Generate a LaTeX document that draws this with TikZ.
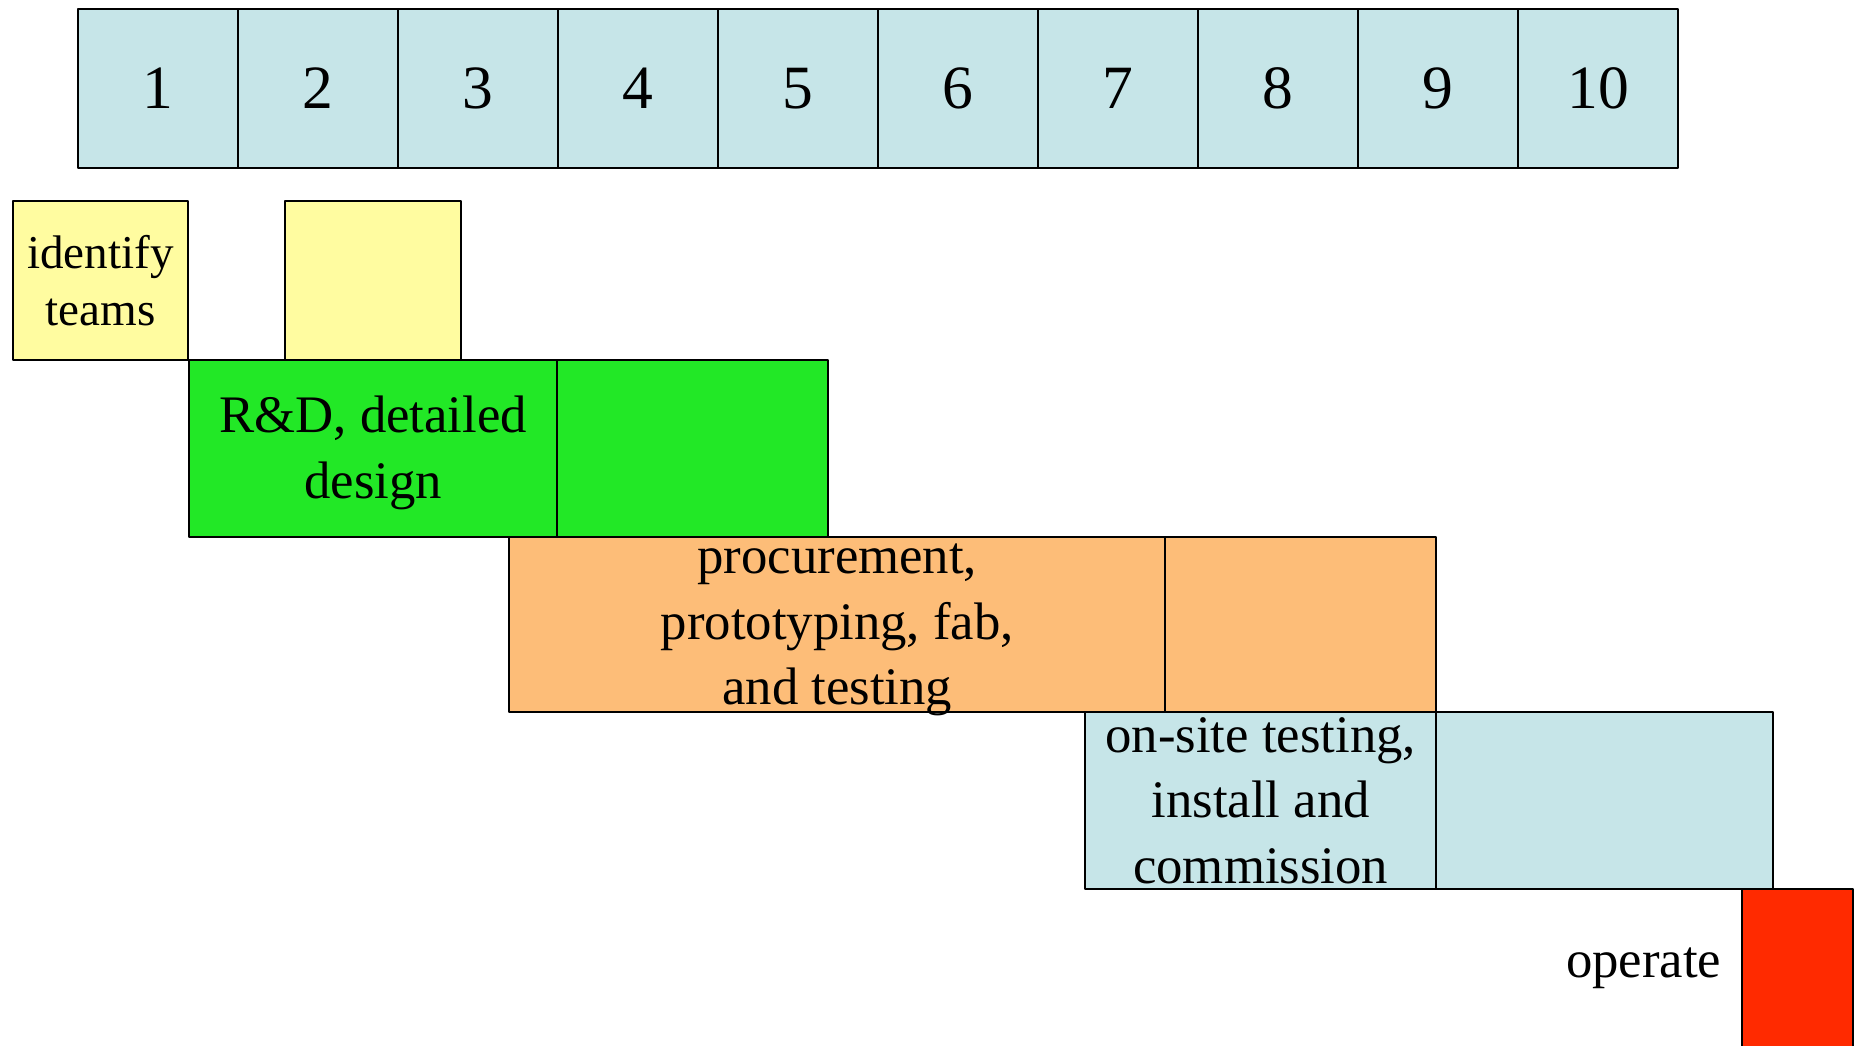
\documentclass[tikz,border=0pt]{standalone}
\usepackage{fontspec}
\setmainfont{Liberation Serif}
\definecolor{sky}{HTML}{C6E5E8}
\definecolor{pale}{HTML}{FFFCA0}
\definecolor{leaf}{HTML}{22E826}
\definecolor{peach}{HTML}{FDBD78}
\definecolor{fire}{HTML}{FF2A00}
\begin{document}
\begin{tikzpicture}[x=0.01cm, y=-0.01cm, line join=round,
  box/.style={draw, line width=0.6pt, rectangle, inner sep=0pt, anchor=north west, align=center},
  year/.style={box, fill=sky, minimum width=1.6cm, minimum height=1.59cm, font=\fontsize{17.5}{21}\selectfont},
  phase/.style={inner sep=0pt, align=center, font=\fontsize{15}{18.6}\selectfont}]
\useasboundingbox (0,0) rectangle (1858,1046);
% years along the top
\foreach \i in {1,...,10}
  \node[year] (yr\i) at ({77+(\i-1)*160},8) {\i};
% phases
\node[box, fill=pale, minimum width=1.75cm, minimum height=1.59cm, font=\fontsize{13.4}{16}\selectfont] (teams) at (12,200) {identify\\teams};
\node[box, fill=pale, minimum width=1.76cm, minimum height=1.59cm] (teams2) at (284,200) {};
\node[box, fill=leaf, minimum width=3.68cm, minimum height=1.77cm] (design) at (188,359) {};
\node[box, fill=leaf, minimum width=2.71cm, minimum height=1.77cm] (design2) at (556,359) {};
\node[box, fill=peach, minimum width=6.56cm, minimum height=1.75cm] (fab) at (508,536) {};
\node[box, fill=peach, minimum width=2.71cm, minimum height=1.75cm] (fab2) at (1164,536) {};
\node[box, fill=sky, minimum width=3.51cm, minimum height=1.77cm] (site) at (1084,711) {};
\node[box, fill=sky, minimum width=3.37cm, minimum height=1.77cm] (site2) at (1435,711) {};
\node[box, fill=fire, minimum width=1.11cm, minimum height=1.8cm] (run) at (1741,888) {};
% captions
\node[phase] (designtxt) at ([yshift=-1.2pt]design.center) {R\&D, detailed\\design};
\node[phase] (fabtxt) at ([yshift=-1.5pt]fab.center) {procurement,\\prototyping, fab,\\and testing};
\node[phase] (sitetxt) at (site.center) {on-site testing,\\install and\\commission};
\node[phase, anchor=east] (operate) at (1722,968) {operate};
\end{tikzpicture}
\end{document}
